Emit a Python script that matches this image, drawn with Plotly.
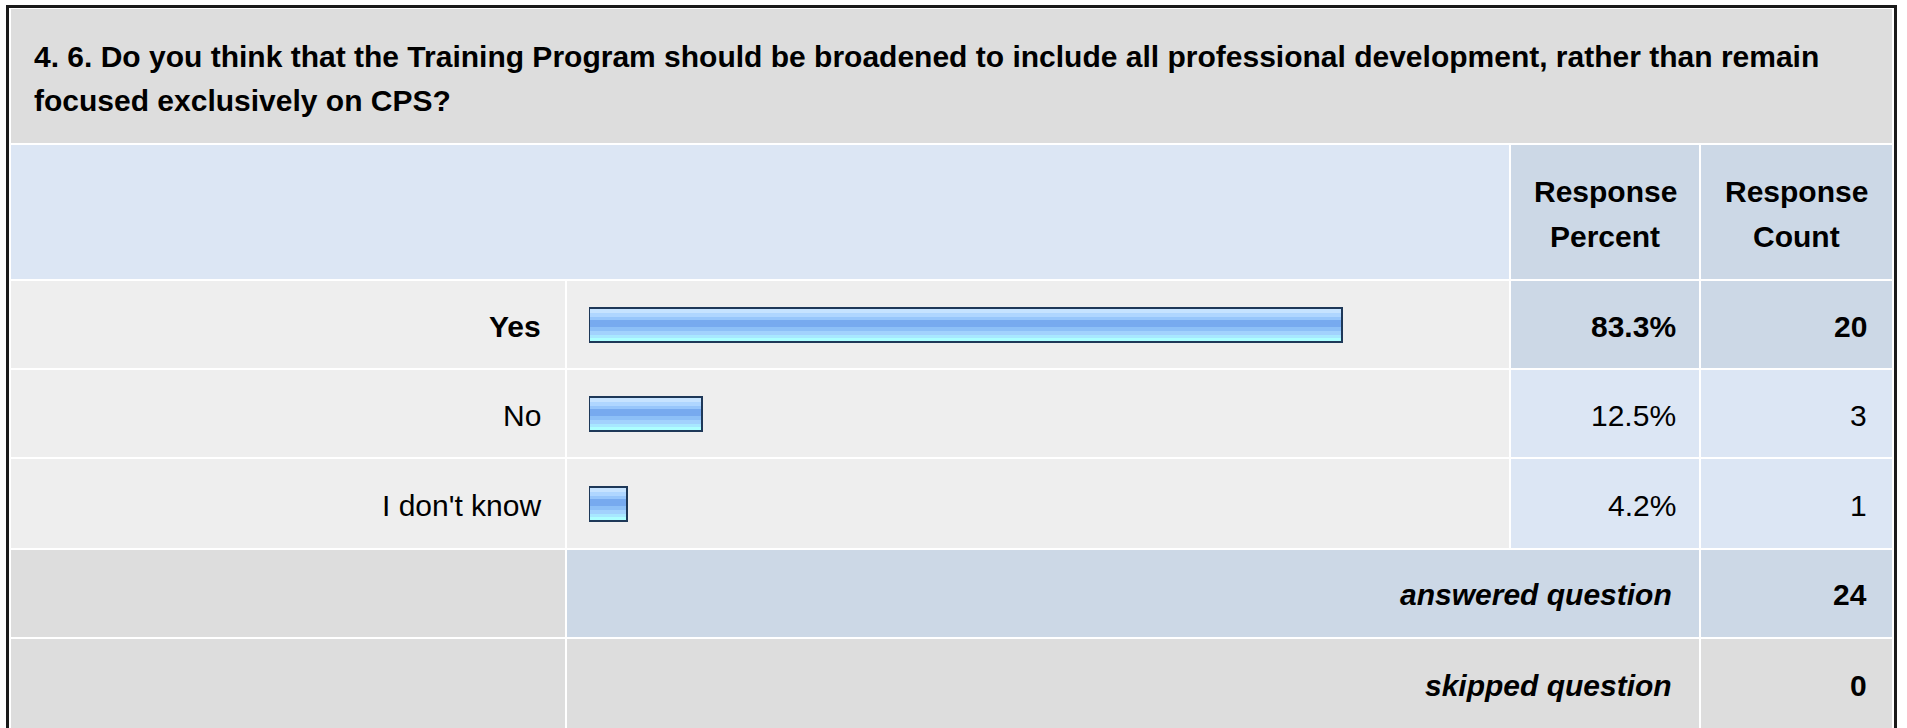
import plotly.graph_objects as go

# ---- survey data -------------------------------------------------------
title_lines = [
    "4. 6. Do you think that the Training Program should be broadened to include all "
    "professional development, rather than remain",
    "focused exclusively on CPS?",
]
choices = ["Yes", "No", "I don't know"]
percents = [83.3, 12.5, 4.2]
counts = [20, 3, 1]
answered_count = 24
skipped_count = 0
header_labels = [["Response", "Percent"], ["Response", "Count"]]

# ---- page geometry (pixels) -------------------------------------------
W, H = 1907, 728
FONT = "Liberation Sans, Arial, Helvetica, sans-serif"

# column edges: label | bar | percent | count
col_label = (11, 565)
col_bar = (567, 1509)
col_pct = (1511, 1699)
col_cnt = (1701, 1892)

row_title = (9, 143)
row_head = (145, 279)
row_choice = [(281, 368), (370, 457), (459, 548)]
row_answered = (550, 637)
row_skipped = (639, 733)

C_TITLE = "#DDDDDD"
C_LIGHT = "#EEEEEE"
C_HEAD = "#DCE6F4"
C_HEAD_DARK = "#CCD8E6"
C_FOOT = "#DDDDDD"

shapes = []


def cell(x0, x1, y0, y1, color):
    shapes.append(dict(type="rect", xref="x", yref="y", x0=x0, x1=x1, y0=y0, y1=y1,
                       fillcolor=color, line=dict(width=0), layer="below"))


# outer frame
shapes.append(dict(type="rect", xref="x", yref="y", x0=7.5, x1=1895.5, y0=6.5, y1=740,
                   fillcolor="white", line=dict(color="#1A1A1A", width=3), layer="below"))

cell(col_label[0], col_cnt[1], *row_title, C_TITLE)
cell(col_label[0], col_bar[1], *row_head, C_HEAD)
cell(*col_pct, *row_head, C_HEAD_DARK)
cell(*col_cnt, *row_head, C_HEAD_DARK)

top_idx = percents.index(max(percents))
for i, (y0, y1) in enumerate(row_choice):
    cell(*col_label, y0, y1, C_LIGHT)
    cell(*col_bar, y0, y1, C_LIGHT)
    c = C_HEAD_DARK if i == top_idx else C_HEAD
    cell(*col_pct, y0, y1, c)
    cell(*col_cnt, y0, y1, c)

cell(*col_label, *row_answered, C_FOOT)
cell(col_bar[0], col_pct[1], *row_answered, C_HEAD_DARK)
cell(*col_cnt, *row_answered, C_HEAD_DARK)
cell(*col_label, *row_skipped, C_FOOT)
cell(col_bar[0], col_pct[1], *row_skipped, C_FOOT)
cell(*col_cnt, *row_skipped, C_FOOT)

# ---- bars: horizontal gradient built from stacked stripes -------------
fig = go.Figure()
BAR_H = 36
row_centers = [(a + b) / 2 for a, b in row_choice]

stripes = [  # (top, bottom, colour) inside a 36 px bar
    (0, 6, "#C6E3FF"),
    (6, 10, "#AFD6FF"),
    (10, 13, "#97C6FB"),
    (13, 20, "#77AAEF"),
    (20, 24, "#8DC0F7"),
    (24, 28, "#A2D2FD"),
    (28, 31, "#A8E8FF"),
    (31, 36, "#ADFFFF"),
]
for t, b, col in stripes:
    fig.add_trace(go.Bar(
        x=percents, y=row_centers, orientation="h", xaxis="x2", yaxis="y",
        base=0, offset=-BAR_H / 2 + t, width=b - t,
        marker=dict(color=col, line=dict(width=0)),
        hoverinfo="skip", showlegend=False,
    ))
# dark outline on top
fig.add_trace(go.Bar(
    x=percents, y=row_centers, orientation="h", xaxis="x2", yaxis="y",
    base=0, offset=-BAR_H / 2 + 1, width=BAR_H - 2,
    marker=dict(color="rgba(0,0,0,0)", line=dict(color="#1E3858", width=2)),
    hoverinfo="skip", showlegend=False,
))

# ---- text --------------------------------------------------------------
ann = []


def text(x, y, s, anchor="right", size=30):
    ann.append(dict(x=x, y=y, xref="x", yref="y", text=s, showarrow=False,
                    xanchor=anchor, yanchor="middle",
                    font=dict(family=FONT, size=size, color="#000000")))


text(32, 56, "<b>" + title_lines[0] + "</b>", anchor="left")
text(32, 100, "<b>" + title_lines[1] + "</b>", anchor="left")

for (x0, x1), lines in zip([col_pct, col_cnt], header_labels):
    cx = (x0 + x1) / 2
    text(cx, 191, "<b>" + lines[0] + "</b>", anchor="center")
    text(cx, 236, "<b>" + lines[1] + "</b>", anchor="center")

for i, (lab, p, n) in enumerate(zip(choices, percents, counts)):
    yc = row_centers[i] + 2
    bold = i == top_idx
    wrap = (lambda s: "<b>" + s + "</b>") if bold else (lambda s: s)
    text(col_label[1] - 22, yc, wrap(lab))
    text(col_pct[1] - 21, yc, wrap(f"{p:.1f}%"))
    text(col_cnt[1] - 23, yc, wrap(str(n)))

ya = (row_answered[0] + row_answered[1]) / 2 + 1
text(col_pct[1] - 25, ya, "<b><i>answered question</i></b>")
text(col_cnt[1] - 23, ya, f"<b>{answered_count}</b>")
ys = 685
text(col_pct[1] - 25, ys, "<b><i>skipped question</i></b>")
text(col_cnt[1] - 23, ys, f"<b>{skipped_count}</b>")

fig.update_layout(
    width=W, height=H,
    margin=dict(l=0, r=0, t=0, b=0),
    paper_bgcolor="white", plot_bgcolor="rgba(0,0,0,0)",
    barmode="overlay", bargap=0,
    xaxis=dict(range=[0, W], visible=False, domain=[0, 1], fixedrange=True),
    yaxis=dict(range=[H, 0], visible=False, domain=[0, 1], fixedrange=True),
    xaxis2=dict(range=[0, 100], visible=False, anchor="y",
                domain=[589 / W, 1493 / W], fixedrange=True),
    shapes=shapes, annotations=ann,
    showlegend=False,
)

fig.write_html("out.html", config={"displayModeBar": False})
